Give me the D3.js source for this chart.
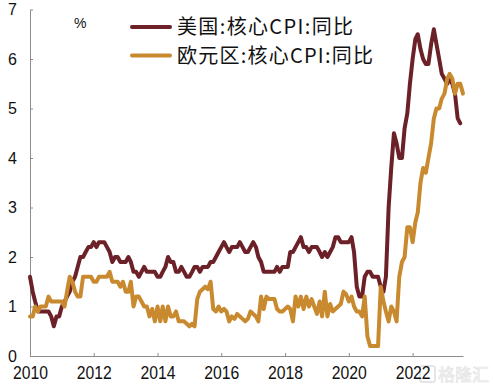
<!DOCTYPE html>
<html>
  <head>
    <meta charset="utf-8">
    <title>Core CPI</title>
    <script src="https://d3js.org/d3.v7.min.js"></script>
    <style>
      body { margin: 0; background: #fff; }
    </style>
  </head>
  <body>
    <script>
    var w = 493;
    var h = 386;

    // monthly, first value = Jan 2010
    var usCore = [
      1.6, 1.3, 1.1, 0.9, 0.9, 0.9, 0.9, 0.9, 0.8, 0.6, 0.8, 0.8,
      1.0, 1.1, 1.2, 1.3, 1.5, 1.6, 1.8, 2.0, 2.0, 2.1, 2.2, 2.2,
      2.3, 2.2, 2.3, 2.3, 2.3, 2.2, 2.1, 1.9, 2.0, 2.0, 1.9, 1.9,
      1.9, 2.0, 1.9, 1.7, 1.7, 1.6, 1.7, 1.8, 1.7, 1.7, 1.7, 1.7,
      1.6, 1.6, 1.7, 1.8, 2.0, 1.9, 1.9, 1.7, 1.7, 1.8, 1.7, 1.6,
      1.6, 1.7, 1.8, 1.8, 1.7, 1.8, 1.8, 1.8, 1.9, 1.9, 2.0, 2.1,
      2.2, 2.3, 2.2, 2.1, 2.2, 2.2, 2.2, 2.3, 2.2, 2.1, 2.1, 2.2,
      2.3, 2.2, 2.0, 1.9, 1.7, 1.7, 1.7, 1.7, 1.7, 1.8, 1.7, 1.8,
      1.8, 1.8, 2.1, 2.1, 2.2, 2.3, 2.4, 2.2, 2.2, 2.1, 2.2, 2.2,
      2.2, 2.1, 2.0, 2.1, 2.0, 2.1, 2.2, 2.4, 2.4, 2.3, 2.3, 2.3,
      2.3, 2.4, 2.1, 1.4, 1.2, 1.2, 1.6, 1.7, 1.7, 1.6, 1.6, 1.6,
      1.4, 1.3, 1.6, 3.0, 3.8, 4.5, 4.3, 4.0, 4.0, 4.6, 4.9, 5.5,
      6.0, 6.4, 6.5, 6.2, 6.0, 5.9, 5.9, 6.3, 6.6, 6.3, 6.0, 5.7,
      5.6, 5.5, 5.6, 5.5, 5.3, 4.8, 4.7
    ];

    var euroCore = [
      0.8, 0.8, 1.0, 0.9, 1.0, 1.0, 1.0, 1.2, 1.1, 1.1, 1.1, 1.1,
      1.1, 1.0, 1.3, 1.6, 1.5, 1.3, 1.2, 1.2, 1.6, 1.6, 1.6, 1.6,
      1.5, 1.5, 1.6, 1.6, 1.6, 1.6, 1.7, 1.5, 1.5, 1.5, 1.4, 1.5,
      1.3, 1.3, 1.5, 1.0, 1.2, 1.2, 1.1, 1.0, 1.0, 0.8, 0.95, 0.7,
      1.0, 0.7, 1.0, 0.7, 1.0, 0.8, 0.8, 0.9, 0.7, 0.7, 0.7, 0.65,
      0.6, 0.65, 0.6, 1.15, 1.3, 1.35, 1.4, 1.35, 1.5, 0.95, 0.9, 1.0,
      0.9, 0.95, 0.9, 0.7, 0.8, 0.75, 0.85, 0.8, 0.75, 0.7, 0.75, 0.9,
      0.85, 0.8, 0.7, 1.2, 0.95, 1.2, 1.15, 1.15, 1.15, 0.95, 0.9, 0.9,
      0.95, 1.0, 0.95, 0.7, 1.2, 1.0, 1.2, 0.95, 1.2, 1.0, 1.15, 1.0,
      0.85, 1.1, 0.8, 1.3, 0.8, 1.05, 0.9, 0.95, 1.0, 1.05, 1.3, 1.25,
      1.1, 1.2, 1.0, 0.9, 0.9, 0.8, 1.2, 0.4, 0.2, 0.2, 0.2, 0.2,
      1.4, 1.1, 0.9, 0.7, 1.0, 0.9, 0.7, 1.6, 1.9, 2.0, 2.6, 2.6,
      2.3, 2.7, 2.9, 3.5, 3.8, 3.7, 4.0, 4.3, 4.8, 5.0, 5.0, 5.2,
      5.3, 5.6, 5.7, 5.6, 5.3, 5.5, 5.5, 5.3
    ];

    var seriesNames = ["美国:核心CPI:同比", "欧元区:核心CPI:同比"];
    var seriesColors = ["#6b2127", "#c98a2f"];
    var yearTicks = [2010, 2012, 2014, 2016, 2018, 2020, 2022];
    var valueTicks = [0, 1, 2, 3, 4, 5, 6, 7];

    function monthDate(i){ return new Date(2010, i, 1) }

    var x = d3.scaleTime()
      .domain([new Date(2010, 0, 1), new Date(2023, 7, 1)])
      .range([30, 463]);

    var y = d3.scaleLinear()
      .domain([0, 7])
      .range([356, 9.5]);

    var svg = d3.select("body")
      .append("svg")
      .attr("width", w)
      .attr("height", h);

    // watermark
    var wm = svg.append("g").attr("opacity", 0.55);
    wm.append("rect")
      .attr("x", 420).attr("y", 366).attr("width", 15).attr("height", 16)
      .attr("rx", 2)
      .attr("fill", "none").attr("stroke", "#d2d2d2").attr("stroke-width", 2);
    wm.append("text")
      .attr("x", 438).attr("y", 381)
      .attr("font-family", "Noto Sans CJK SC")
      .attr("font-size", "17px")
      .attr("fill", "#e4e4e4").attr("stroke", "#cfcfcf").attr("stroke-width", 0.6)
      .text("格隆汇");

    var xAxis = d3.axisBottom(x)
      .tickValues(yearTicks.map(function(d){ return new Date(d, 0, 1) }))
      .tickFormat(d3.timeFormat("%Y"))
      .tickSizeInner(-3)
      .tickSizeOuter(0)
      .tickPadding(10);

    var yAxis = d3.axisLeft(y)
      .tickValues(valueTicks)
      .tickFormat(d3.format("d"))
      .tickSizeInner(-3)
      .tickSizeOuter(0)
      .tickPadding(13);

    var gx = svg.append("g")
      .attr("transform", "translate(0," + y(0) + ")")
      .call(xAxis);
    gx.selectAll("text")
      .attr("font-size", "19px")
      .attr("textLength", 35)
      .attr("lengthAdjust", "spacingAndGlyphs");

    var gy = svg.append("g")
      .attr("transform", "translate(" + x(new Date(2010, 0, 1)) + ",0)")
      .call(yAxis);
    gy.selectAll("text")
      .attr("font-size", "16px")
      .attr("dy", "0.34em");

    svg.selectAll(".domain, .tick line")
      .attr("stroke", "#8c8c8c")
      .attr("stroke-width", 1);
    svg.selectAll(".tick text")
      .attr("font-family", "Liberation Sans, Arial, sans-serif")
      .attr("fill", "#111");

    var line = d3.line()
      .x(function(d, i){ return x(monthDate(i)) })
      .y(function(d){ return y(d) });

    [usCore, euroCore].forEach(function(s, k){
      svg.append("path")
        .datum(s)
        .attr("d", line)
        .attr("fill", "none")
        .attr("stroke", seriesColors[k])
        .attr("stroke-width", 4)
        .attr("stroke-linejoin", "round")
        .attr("stroke-linecap", "round");
    });

    // unit
    svg.append("text")
      .attr("x", 74).attr("y", 28)
      .attr("font-family", "Liberation Sans, Arial, sans-serif")
      .attr("font-size", "14px")
      .attr("fill", "#111")
      .text("%");

    // legend
    var legend = svg.selectAll(".legend")
      .data(seriesNames)
      .enter()
      .append("g")
      .attr("class", "legend")
      .attr("transform", function(d, i){ return "translate(0," + (27 + i * 28.5) + ")" });

    legend.append("line")
      .attr("x1", 132).attr("x2", 170)
      .attr("stroke", function(d, i){ return seriesColors[i] })
      .attr("stroke-width", 4)
      .attr("stroke-linecap", "round");

    legend.append("text")
      .attr("x", 177)
      .attr("dy", "0.36em")
      .attr("font-family", "Noto Sans CJK SC")
      .attr("font-size", "20px")
      .attr("fill", "#111")
      .attr("textLength", function(d, i){ return i ? 196 : 176 })
      .attr("lengthAdjust", "spacing")
      .text(function(d){ return d });

    </script>
  </body>
</html>
